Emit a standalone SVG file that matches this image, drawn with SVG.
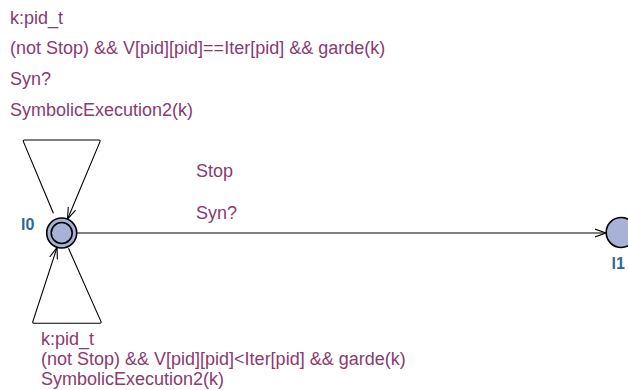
<svg xmlns="http://www.w3.org/2000/svg" width="628" height="390" viewBox="0 0 628 390">
<defs>
<style>
.lbl{font-family:"Liberation Sans",Arial,sans-serif;font-size:18px;fill:#8B3A6E}
.name{font-family:"Liberation Sans",Arial,sans-serif;font-size:16px;font-weight:bold;fill:#2F6696}
.loc{fill:#A8B1D6;stroke:#000;stroke-width:1.6}
.edge{fill:none;stroke:#000;stroke-width:1.1;stroke-linejoin:round}
</style>
<marker id="arr" viewBox="0 0 12 10" refX="11.5" refY="5" markerWidth="12" markerHeight="10" markerUnits="userSpaceOnUse" orient="auto">
<path d="M0,1 L11.5,5 L0,9" fill="none" stroke="#000" stroke-width="1.1"/>
</marker>
</defs>
<rect width="628" height="390" fill="#fff"/>
<g id="connectors">
<path class="edge" d="M53.4,213.3 L23.5,141.9 Q22.7,140 24.7,140 L98.7,140 Q100.7,140 99.9,141.9 L67.5,219.2" marker-end="url(#arr)"/>
<path class="edge" d="M68.5,248.3 L100.9,321.4 Q101.7,323.3 99.7,323.3 L34.3,323.3 Q32.3,323.3 32.9,321.4 L57.1,247.3" marker-end="url(#arr)"/>
<path class="edge" d="M76.7,233 L606,233" marker-end="url(#arr)"/>
</g>
<g id="l0">
<circle class="loc" cx="61.7" cy="233" r="15"/>
<circle class="loc" cx="61.7" cy="233" r="10.5"/>
<text class="name" x="21" y="230">l0</text>
</g>
<g id="l1">
<circle class="loc" cx="621.2" cy="232.5" r="15"/>
<text class="name" x="611.5" y="268.5">l1</text>
</g>
<g id="labels">
<text class="lbl" x="10" y="23.5">k:pid_t</text>
<text class="lbl" x="10" y="54">(not Stop) &amp;&amp; V[pid][pid]==Iter[pid] &amp;&amp; garde(k)</text>
<text class="lbl" x="10" y="84.5">Syn?</text>
<text class="lbl" x="10" y="115.5">SymbolicExecution2(k)</text>
<text class="lbl" x="196" y="177">Stop</text>
<text class="lbl" x="196" y="218.5">Syn?</text>
<text class="lbl" x="41" y="345">k:pid_t</text>
<text class="lbl" x="41" y="365">(not Stop) &amp;&amp; V[pid][pid]&lt;Iter[pid] &amp;&amp; garde(k)</text>
<text class="lbl" x="41" y="384.5">SymbolicExecution2(k)</text>
</g>
</svg>
